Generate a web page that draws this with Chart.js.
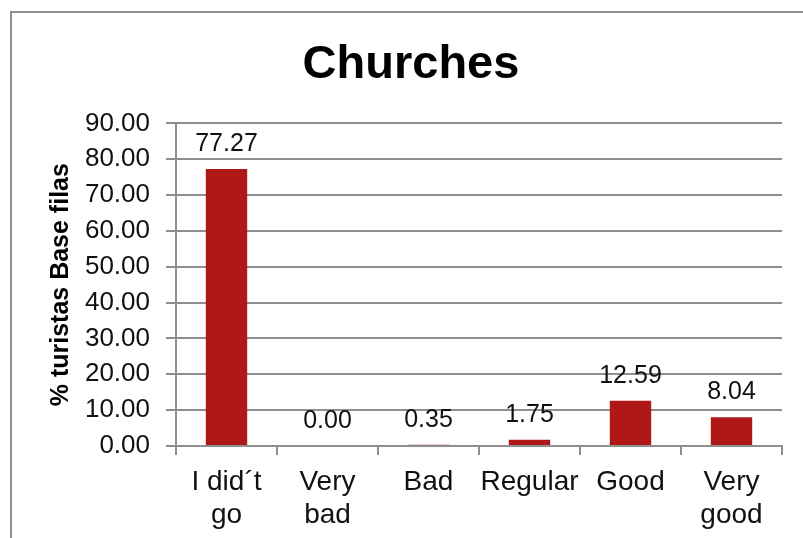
<!DOCTYPE html>
<html>
<head>
<meta charset="utf-8">
<script src="https://cdn.jsdelivr.net/npm/chart.js@4/dist/chart.umd.min.js"></script>
<style>
  html, body { margin: 0; padding: 0; background: #ffffff; }
  canvas { display: block; }
</style>
</head>
<body>
<canvas id="c" width="803" height="538"></canvas>
<script>
const chartTitle = "Churches";
const yAxisTitle = "% turistas Base filas";
const categories = [["I did\u00B4t", "go"], ["Very", "bad"], "Bad", "Regular", "Good", ["Very", "good"]];
const values = [77.27, 0.00, 0.35, 1.75, 12.59, 8.04];
const yTicks = [0, 10, 20, 30, 40, 50, 60, 70, 80, 90];

const GRID = '#8f8f8f';
const BAR = '#b01717';
const FONT = "'Liberation Sans', Arial, sans-serif";

const frame = {
  id: 'frame',
  beforeDraw(chart) {
    const ctx = chart.ctx;
    ctx.save();
    ctx.strokeStyle = GRID;
    ctx.lineWidth = 2;
    ctx.beginPath();
    ctx.moveTo(11, 538);
    ctx.lineTo(11, 12);
    ctx.lineTo(803, 12);
    ctx.stroke();
    ctx.restore();
  }
};

const valueLabels = {
  id: 'valueLabels',
  afterDatasetsDraw(chart) {
    const ctx = chart.ctx;
    const meta = chart.getDatasetMeta(0);
    ctx.save();
    ctx.font = "25px " + FONT;
    ctx.fillStyle = '#111111';
    ctx.textAlign = 'center';
    ctx.textBaseline = 'alphabetic';
    meta.data.forEach((bar, i) => {
      ctx.fillText(values[i].toFixed(2), bar.x, bar.y - 18);
    });
    ctx.restore();
  }
};

new Chart(document.getElementById('c'), {
  type: 'bar',
  data: {
    labels: categories,
    datasets: [{
      data: values,
      backgroundColor: BAR,
      borderWidth: 0,
      categoryPercentage: 1.0,
      barPercentage: 0.41
    }]
  },
  options: {
    responsive: false,
    animation: false,
    devicePixelRatio: 1,
    layout: { padding: { left: 19, right: 0, top: 0, bottom: 0 } },
    plugins: {
      legend: { display: false },
      tooltip: { enabled: false },
      title: {
        display: true,
        text: chartTitle,
        color: '#000000',
        font: { family: FONT, size: 47, weight: 'bold', lineHeight: 1.2 },
        padding: { top: 37, bottom: 30 }
      }
    },
    scales: {
      x: {
        offset: true,
        grid: {
          display: true,
          offset: true,
          drawOnChartArea: false,
          drawTicks: true,
          tickLength: 9,
          color: GRID,
          lineWidth: 2
        },
        border: { display: true, color: GRID, width: 2 },
        ticks: {
          color: '#111111',
          font: { family: FONT, size: 28, lineHeight: 1.2 },
          padding: 10,
          maxRotation: 0,
          autoSkip: false
        },
        afterFit: s => { s.height = 92; }
      },
      y: {
        min: 0,
        max: 90,
        afterBuildTicks: s => { s.ticks = yTicks.map(v => ({ value: v })); },
        grid: {
          color: GRID,
          lineWidth: 2,
          drawTicks: true,
          tickLength: 10
        },
        border: { display: true, color: GRID, width: 2 },
        ticks: {
          color: '#111111',
          font: { family: FONT, size: 26 },
          padding: 16,
          callback: v => Number(v).toFixed(2)
        },
        title: {
          display: true,
          text: yAxisTitle,
          color: '#000000',
          font: { family: FONT, size: 25, weight: 'bold', lineHeight: 1.2 },
          padding: { top: 27, bottom: 0 }
        },
        afterFit: s => { s.width = 157; }
      },
      yr: {
        position: 'right',
        display: true,
        grid: { display: false, drawTicks: false },
        border: { display: false },
        ticks: { display: false },
        afterFit: s => { s.width = 21; }
      }
    }
  },
  plugins: [frame, valueLabels]
});
</script>
</body>
</html>
